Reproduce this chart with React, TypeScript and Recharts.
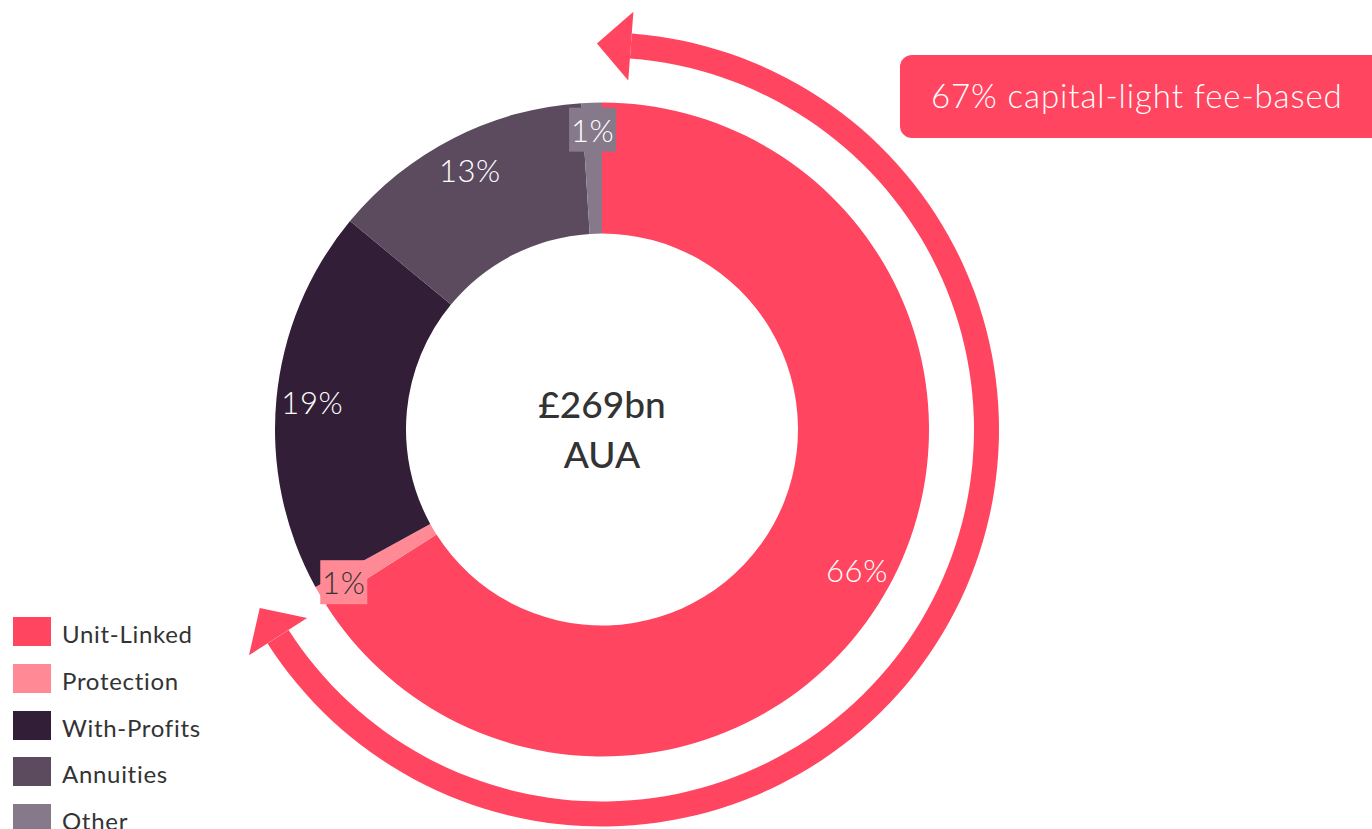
import { PieChart, Pie, Cell } from "recharts";

const segmentNames = ["Unit-Linked", "Protection", "With-Profits", "Annuities", "Other"];
const segmentShares = [66, 1, 19, 13, 1];
const segmentColors = ["#FF4560", "#FF8A96", "#331E38", "#5C4A5F", "#86798A"];

const feeBasedShare = 67;
const feeBasedText = "capital-light fee-based";
const totalText = "£269bn";
const totalUnit = "AUA";

const RAD = Math.PI / 180;
const FONT = "Lato, 'Open Sans', sans-serif";
const CX = 602;
const CY = 429.5;

const sliceData = segmentNames.map((name, i) => ({ name, value: segmentShares[i] }));
const arrowData = [
  { name: "fee-based", value: feeBasedShare },
  { name: "rest", value: 100 - feeBasedShare },
];

// dark text only on the pale pink box
const labelTextColors = ["#fff", "#333", "#fff", "#fff", "#fff"];

const polar = (cx: number, cy: number, r: number, a: number) => ({
  x: cx + r * Math.cos(a * RAD),
  y: cy - r * Math.sin(a * RAD),
});

const renderSliceLabel = (props: any) => {
  const { cx, cy, midAngle, value, index } = props;
  const small = value <= 1;
  const p = polar(cx, cy, small ? 300 : 291, midAngle);
  return (
    <g key={`lbl-${index}`}>
      {small && (
        <rect x={p.x - 23.5} y={p.y - 22} width={47} height={44} fill={segmentColors[index]} />
      )}
      <text
        x={p.x}
        y={p.y}
        textAnchor="middle"
        dominantBaseline="central"
        fill={labelTextColors[index]}
        fontFamily={FONT}
        fontWeight={300}
        fontSize={31}
        letterSpacing={0.6}
      >
        {`${value}%`}
      </text>
    </g>
  );
};

const renderArrow = (props: any) => {
  const { cx, cy, startAngle, endAngle, innerRadius, outerRadius, index } = props;
  if (index !== 0) return null;
  const mid = (innerRadius + outerRadius) / 2;
  const aS = startAngle - 4.3;
  const aE = endAngle + 3.8;
  const large = Math.abs(aS - aE) > 180 ? 1 : 0;
  const o1 = polar(cx, cy, outerRadius, aS);
  const o2 = polar(cx, cy, outerRadius, aE);
  const i1 = polar(cx, cy, innerRadius, aS);
  const i2 = polar(cx, cy, innerRadius, aE);
  const shaft = `M${o1.x},${o1.y} A${outerRadius},${outerRadius} 0 ${large} 1 ${o2.x},${o2.y} L${i2.x},${i2.y} A${innerRadius},${innerRadius} 0 ${large} 0 ${i1.x},${i1.y} Z`;

  const head = (a: number, dir: number) => {
    const b = polar(cx, cy, mid, a);
    const tx = b.x + dir * 34 * -Math.sin(a * RAD);
    const ty = b.y + dir * 34 * -Math.cos(a * RAD);
    const c1 = polar(cx, cy, mid + 34.5, a);
    const c2 = polar(cx, cy, mid - 34.5, a);
    return `M${c1.x},${c1.y} L${tx},${ty} L${c2.x},${c2.y} Z`;
  };

  return (
    <g key="arrow">
      <path d={shaft} fill={segmentColors[0]} />
      <path d={head(aS, 1)} fill={segmentColors[0]} />
      <path d={head(aE, -1)} fill={segmentColors[0]} />
    </g>
  );
};

export default function App() {
  return (
    <div
      style={{
        position: "absolute",
        left: 0,
        top: 0,
        width: 1372,
        height: 829,
        overflow: "hidden",
        background: "#fff",
        fontFamily: FONT,
      }}
    >
      <PieChart width={1372} height={829} margin={{ top: 0, right: 0, bottom: 0, left: 0 }}>
        <Pie
          data={arrowData}
          dataKey="value"
          cx={CX}
          cy={CY}
          innerRadius={372}
          outerRadius={397}
          startAngle={90}
          endAngle={-270}
          stroke="none"
          legendType="none"
          labelLine={false}
          label={renderArrow}
          isAnimationActive={false}
        >
          {arrowData.map((d) => (
            <Cell key={d.name} fill="none" />
          ))}
        </Pie>
        <Pie
          data={sliceData}
          dataKey="value"
          cx={CX}
          cy={CY}
          innerRadius={196}
          outerRadius={327}
          startAngle={90}
          endAngle={-270}
          stroke="none"
          labelLine={false}
          label={renderSliceLabel}
          isAnimationActive={false}
        >
          {sliceData.map((d, i) => (
            <Cell key={d.name} fill={segmentColors[i]} />
          ))}
        </Pie>
      </PieChart>

      <div
        style={{
          position: "absolute",
          left: CX - 150,
          width: 300,
          top: 379,
          textAlign: "center",
          color: "#333",
          fontSize: 37,
          fontWeight: 500,
          lineHeight: "50px",
        }}
      >
        <div>{totalText}</div>
        <div>{totalUnit}</div>
      </div>

      <div
        style={{
          position: "absolute",
          left: 900,
          top: 55,
          width: 490,
          height: 83,
          borderRadius: 12,
          background: segmentColors[0],
          color: "#fff",
          fontSize: 33,
          fontWeight: 300,
          letterSpacing: 0.9,
          lineHeight: "80px",
          paddingLeft: 31,
          boxSizing: "border-box",
          whiteSpace: "nowrap",
        }}
      >
        {`${feeBasedShare}% ${feeBasedText}`}
      </div>

      {segmentNames.map((name, i) => (
        <div
          key={name}
          style={{
            position: "absolute",
            left: 13,
            top: 617 + i * 46.75,
            height: 29,
            display: "flex",
            alignItems: "center",
          }}
        >
          <div style={{ width: 38, height: 29, background: segmentColors[i] }} />
          <span
            style={{
              marginLeft: 11,
              fontSize: 24,
              letterSpacing: 0.7,
              color: "#333",
              whiteSpace: "nowrap",
              position: "relative",
              top: 2,
            }}
          >
            {name}
          </span>
        </div>
      ))}
    </div>
  );
}
